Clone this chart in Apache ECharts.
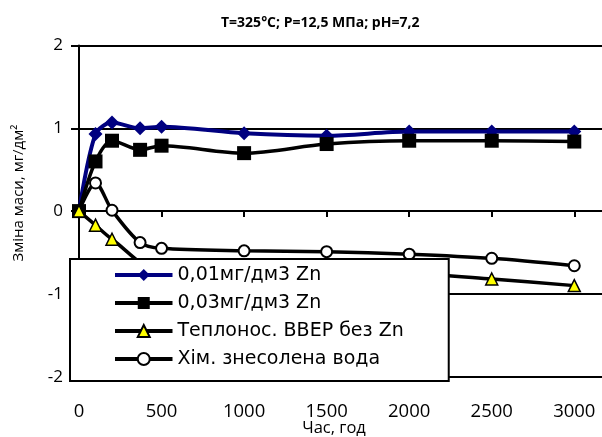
<!DOCTYPE html>
<html>
<head>
<meta charset="utf-8">
<script src="https://cdn.jsdelivr.net/npm/echarts@6/dist/echarts.min.js"></script>
<style>
  html, body { margin: 0; padding: 0; background: #fff; }
  #chart { width: 602px; height: 437px; }
</style>
</head>
<body>
<div id="chart"></div>
<script>
const FONT = 'Open Sans';
const LEGEND_FONT = 'DejaVu Sans';

// hours of exposure
const hours = [0, 100, 200, 370, 500, 1000, 1500, 2000, 2500, 3000];

// mass change, mg/dm2
const zn001 = [0, 0.93, 1.07, 1.00, 1.02, 0.94, 0.91, 0.96, 0.96, 0.96];
const zn003 = [0, 0.60, 0.85, 0.74, 0.79, 0.70, 0.81, 0.85, 0.85, 0.84];
const vver = [0, -0.17, -0.34, null, -0.74, -0.75, -0.76, -0.76, -0.82, -0.90];
const water = [0, 0.34, 0.01, -0.38, -0.45, -0.48, -0.49, -0.52, -0.57, -0.66];

const seriesNames = ['0,01мг/дм3 Zn', '0,03мг/дм3 Zn', 'Теплонос. ВВЕР без Zn', 'Хім. знесолена вода'];

function pairs(values) {
    return hours.map((h, i) => [h, values[i]]);
}

const chart = echarts.init(document.getElementById('chart'));

const option = {
    backgroundColor: '#ffffff',
    animation: false,
    title: {
        text: 'T=325°C; P=12,5 МПа; pH=7,2',
        left: 216,
        top: 11,
        textStyle: {
            fontFamily: FONT,
            fontSize: 14,
            fontWeight: 'bold',
            color: '#000'
        }
    },
    grid: {
        left: 79,
        top: 45.5,
        right: -5.3,
        bottom: 60.3,
        containLabel: false,
        outerBoundsMode: 'none'
    },
    legend: {
        orient: 'vertical',
        left: 70,
        top: 259,
        padding: [6, 45, 12, 43],
        backgroundColor: '#ffffff',
        borderColor: '#000',
        borderWidth: 2,
        borderRadius: 0,
        itemWidth: 57.5,
        itemHeight: 15,
        itemGap: 8,
        data: seriesNames,
        lineStyle: { width: 4 },
        textStyle: {
            fontFamily: LEGEND_FONT,
            fontSize: 19,
            lineHeight: 20,
            color: '#000'
        }
    },
    xAxis: [
        {
            type: 'value',
            min: 0,
            max: 3200,
            interval: 500,
            position: 'bottom',
            axisLine: { show: false, onZero: false },
            axisTick: { show: false },
            splitLine: { show: false },
            axisLabel: {
                fontFamily: FONT,
                fontSize: 18.5,
                color: '#000',
                margin: 26,
                showMaxLabel: false,
                formatter: function(value) {
                    return String(value);
                }
            }
        },
        {
            type: 'value',
            min: 0,
            max: 3200,
            interval: 500,
            position: 'bottom',
            axisLine: { show: true, onZero: true, lineStyle: { color: '#000', width: 2 } },
            axisTick: { show: true, length: 6, lineStyle: { color: '#000', width: 2 } },
            splitLine: { show: false },
            axisLabel: { show: false }
        }
    ],
    yAxis: {
        type: 'value',
        min: -2,
        max: 2,
        interval: 1,
        axisLine: { show: true, onZero: false, lineStyle: { color: '#000', width: 2 } },
        axisTick: { show: true, length: 8, lineStyle: { color: '#000', width: 2 } },
        splitLine: { show: true, lineStyle: { color: '#000', width: 2 } },
        axisLabel: {
            fontFamily: FONT,
            fontSize: 17,
            color: '#000',
            margin: 16
        }
    },
    graphic: [
        {
            // y axis title
            type: 'text',
            x: 19,
            y: 193,
            rotation: Math.PI / 2,
            style: {
                text: 'Зміна маси, мг/дм²',
                fontFamily: FONT,
                fontSize: 15,
                fill: '#000',
                align: 'center',
                verticalAlign: 'middle'
            }
        },
        {
            // x axis title
            type: 'text',
            x: 334,
            y: 428,
            style: {
                text: 'Час, год',
                fontFamily: FONT,
                fontSize: 16.5,
                fill: '#000',
                align: 'center',
                verticalAlign: 'middle'
            }
        }
    ],
    series: [
        {
            name: seriesNames[0],
            type: 'line',
            data: pairs(zn001),
            smooth: 0.3,
            symbol: 'diamond',
            symbolSize: 14,
            itemStyle: { color: '#000080' },
            lineStyle: { color: '#000080', width: 4 }
        },
        {
            name: seriesNames[1],
            type: 'line',
            data: pairs(zn003),
            smooth: 0.3,
            symbol: 'rect',
            symbolSize: 14,
            itemStyle: { color: '#000' },
            lineStyle: { color: '#000', width: 3.5 }
        },
        {
            name: seriesNames[2],
            type: 'line',
            data: pairs(vver),
            connectNulls: true,
            smooth: 0.3,
            symbol: 'triangle',
            symbolSize: 12,
            z: 3,
            itemStyle: { color: '#ffff00', borderColor: '#000', borderWidth: 1.5 },
            lineStyle: { color: '#000', width: 3.5 }
        },
        {
            name: seriesNames[3],
            type: 'line',
            data: pairs(water),
            smooth: 0.3,
            symbol: 'circle',
            symbolSize: 11,
            z: 1,
            itemStyle: { color: '#ffffff', borderColor: '#000', borderWidth: 2 },
            lineStyle: { color: '#000', width: 3.5 }
        }
    ]
};

chart.setOption(option);
</script>
</body>
</html>
